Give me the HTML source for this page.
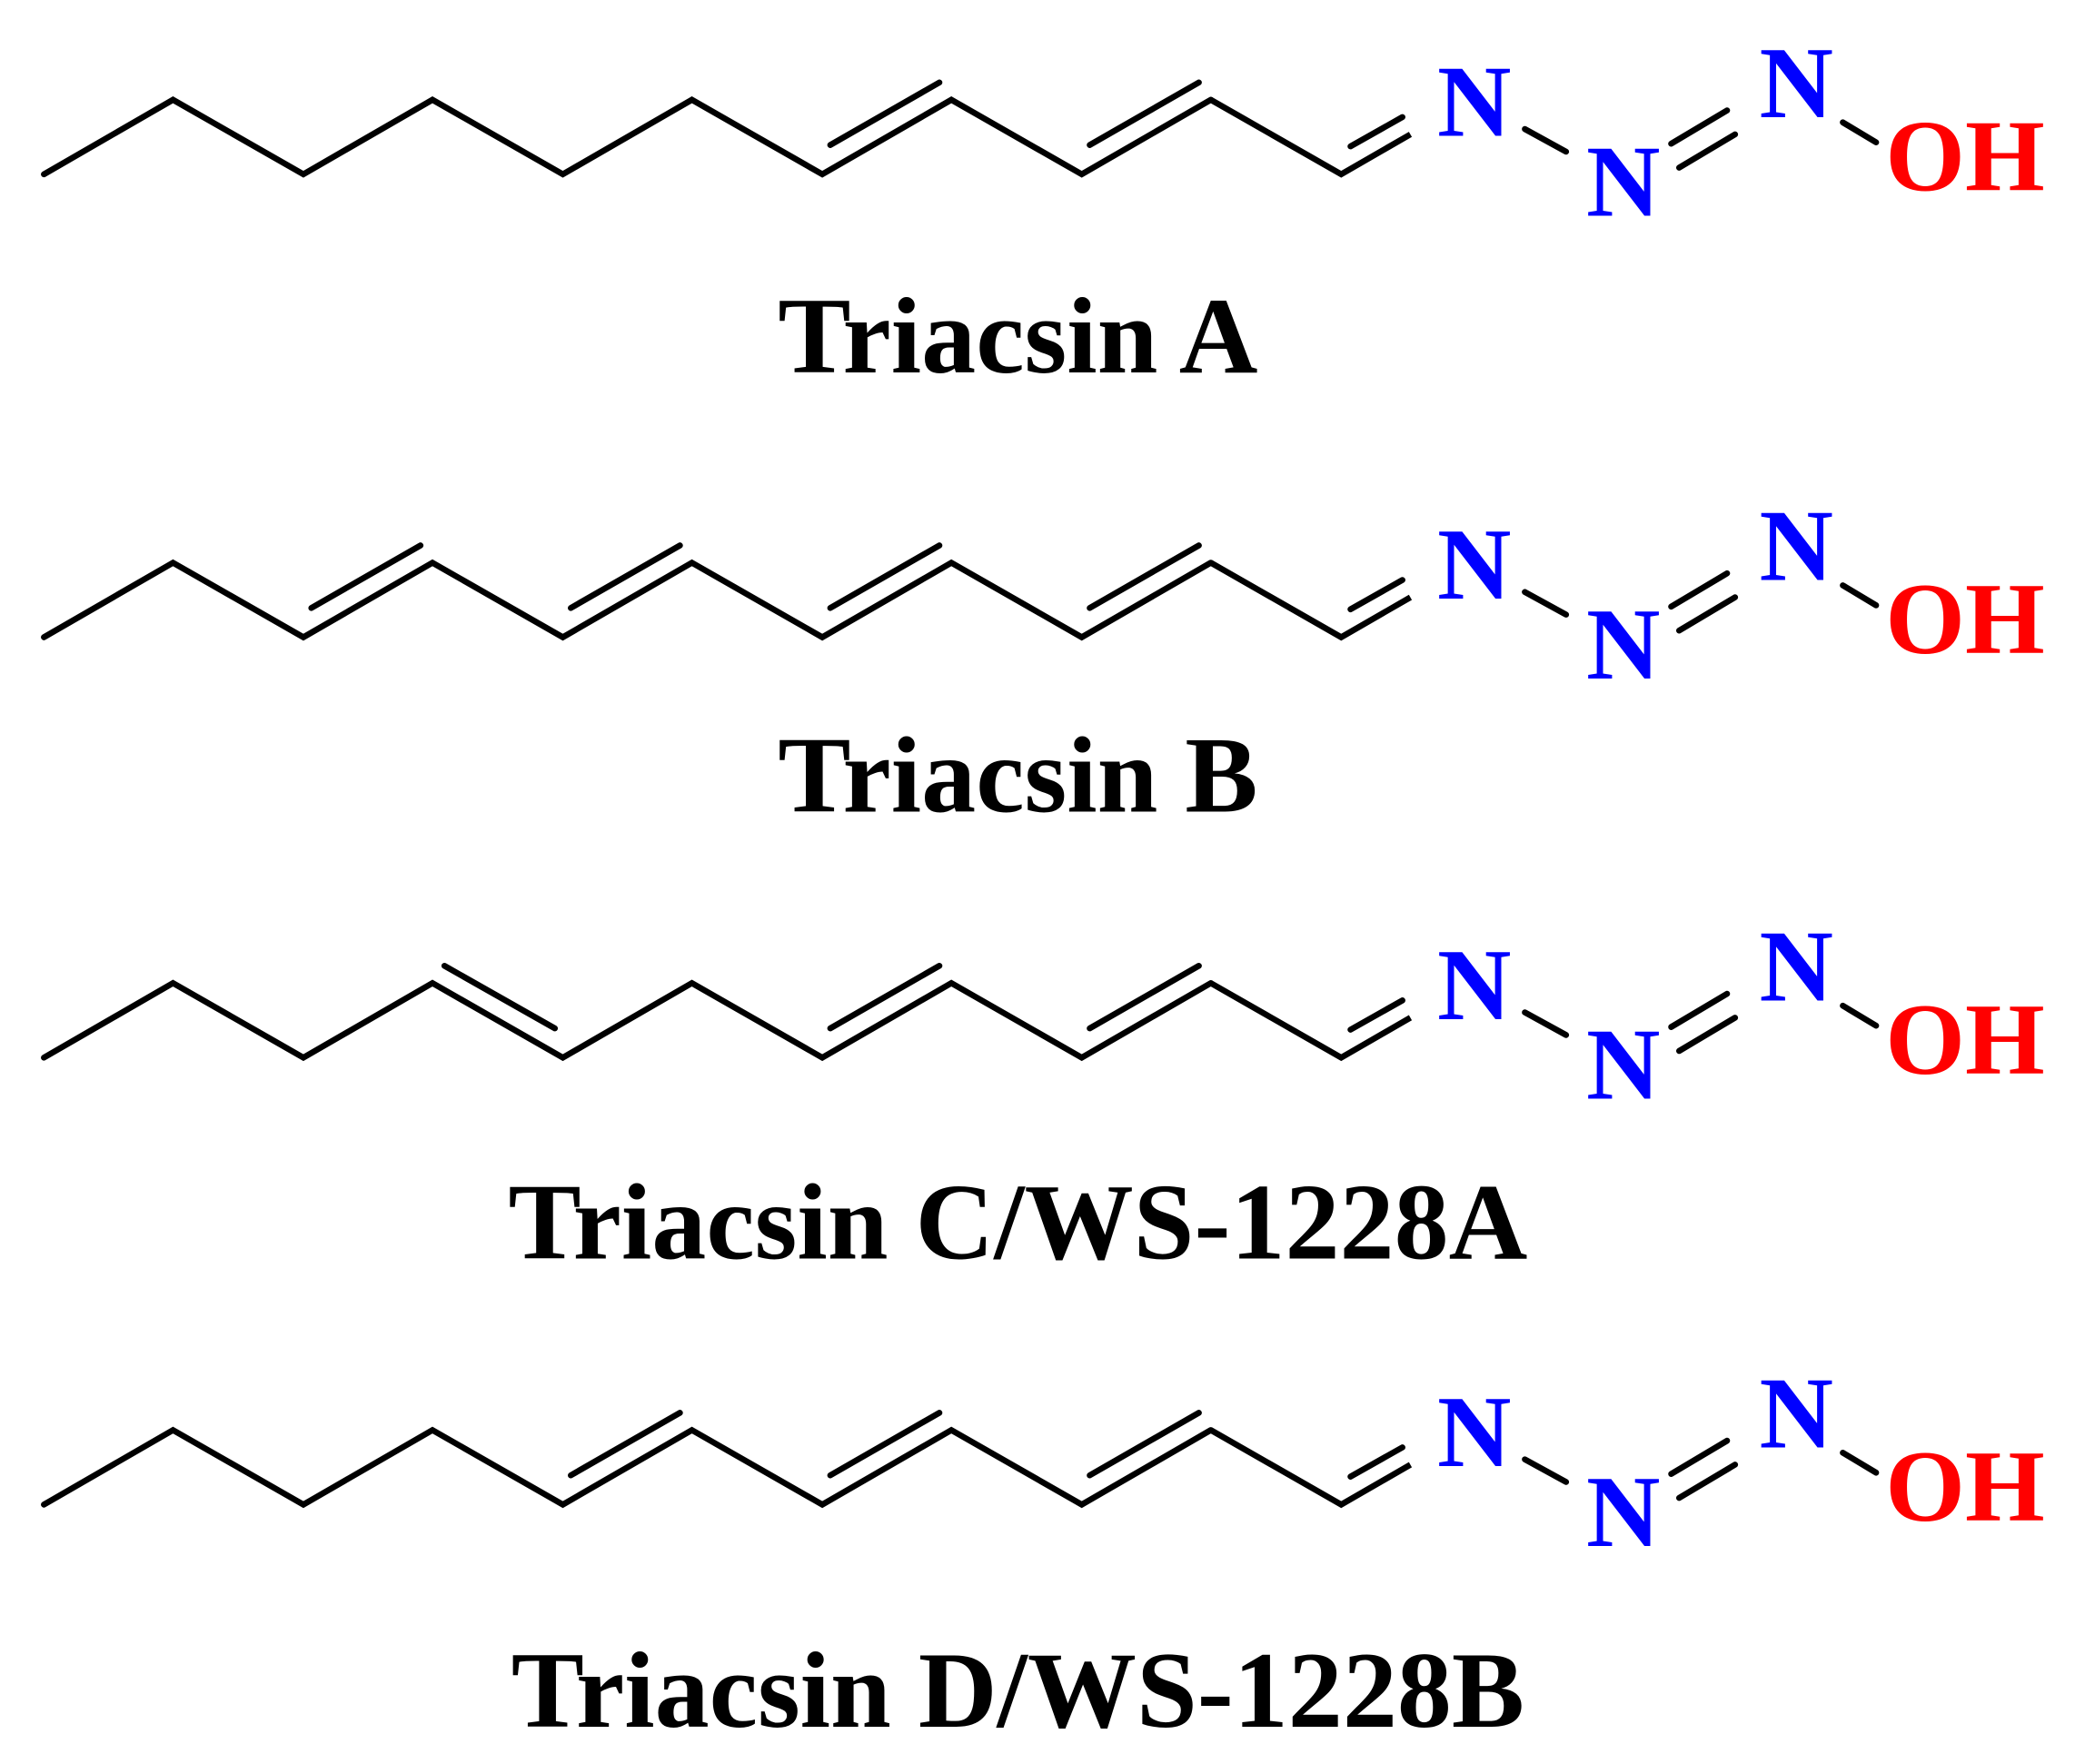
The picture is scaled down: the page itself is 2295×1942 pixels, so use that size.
<!DOCTYPE html>
<html><head><meta charset="utf-8"><style>
html,body{margin:0;padding:0;background:#fff;}
svg{display:block;}
text{font-family:"Liberation Serif",serif;font-weight:bold;stroke:none;}
</style></head><body>
<svg width="2295" height="1942" viewBox="0 0 1567 1326" xmlns="http://www.w3.org/2000/svg">
<defs>
<g id="head">
  <polyline points="910,75 1008,131 1060,101" fill="none" stroke="#000" stroke-width="4.5"/>
  <line x1="1015" y1="110" x2="1054" y2="88" stroke="#000" stroke-width="4.5" stroke-linecap="round"/>
  <line x1="1146" y1="97" x2="1177" y2="114" stroke="#000" stroke-width="4.5" stroke-linecap="round"/>
  <line x1="1262" y1="126" x2="1304" y2="101" stroke="#000" stroke-width="4.5" stroke-linecap="round"/>
  <line x1="1256" y1="108" x2="1298" y2="83" stroke="#000" stroke-width="4.5" stroke-linecap="round"/>
  <line x1="1385" y1="92" x2="1410" y2="107" stroke="#000" stroke-width="4.5" stroke-linecap="round"/>
  <text x="1108" y="102" font-size="77" fill="#0000ff" stroke="none" text-anchor="middle">N</text>
  <text x="1220" y="162" font-size="77" fill="#0000ff" stroke="none" text-anchor="middle">N</text>
  <text x="1350" y="88" font-size="77" fill="#0000ff" stroke="none" text-anchor="middle">N</text>
  <text x="1417" y="143" font-size="77" fill="#ff0000" stroke="none">OH</text>
</g>
<polyline id="chain" points="33,131 130,75 228,131 325,75 423,131 520,75 618,131 715,75 813,131 910,75" fill="none" stroke="#000" stroke-width="4.5"/>
</defs>
<use href="#head"/>
<use href="#head" transform="translate(0,348)"/>
<use href="#head" transform="translate(0,664)"/>
<use href="#head" transform="translate(0,1000)"/>
<g stroke="#000" stroke-width="4.5" stroke-linecap="round" fill="none">
<g>
  <use href="#chain"/>
  <line x1="624" y1="109" x2="706" y2="62"/>
  <line x1="819" y1="109" x2="901" y2="62"/>
</g>
<g transform="translate(0,348)">
  <use href="#chain"/>
  <line x1="234" y1="109" x2="316" y2="62"/>
  <line x1="429" y1="109" x2="511" y2="62"/>
  <line x1="624" y1="109" x2="706" y2="62"/>
  <line x1="819" y1="109" x2="901" y2="62"/>
</g>
<g transform="translate(0,664)">
  <use href="#chain"/>
  <line x1="334" y1="62" x2="417" y2="109"/>
  <line x1="624" y1="109" x2="706" y2="62"/>
  <line x1="819" y1="109" x2="901" y2="62"/>
</g>
<g transform="translate(0,1000)">
  <use href="#chain"/>
  <line x1="429" y1="109" x2="511" y2="62"/>
  <line x1="624" y1="109" x2="706" y2="62"/>
  <line x1="819" y1="109" x2="901" y2="62"/>
</g>
</g>
<g fill="#000" font-size="82" text-anchor="middle">
<text x="765" y="280">Triacsin A</text>
<text x="765" y="610">Triacsin B</text>
<text x="765" y="946">Triacsin C/WS-1228A</text>
<text x="765" y="1298">Triacsin D/WS-1228B</text>
</g>
</svg>
</body></html>
